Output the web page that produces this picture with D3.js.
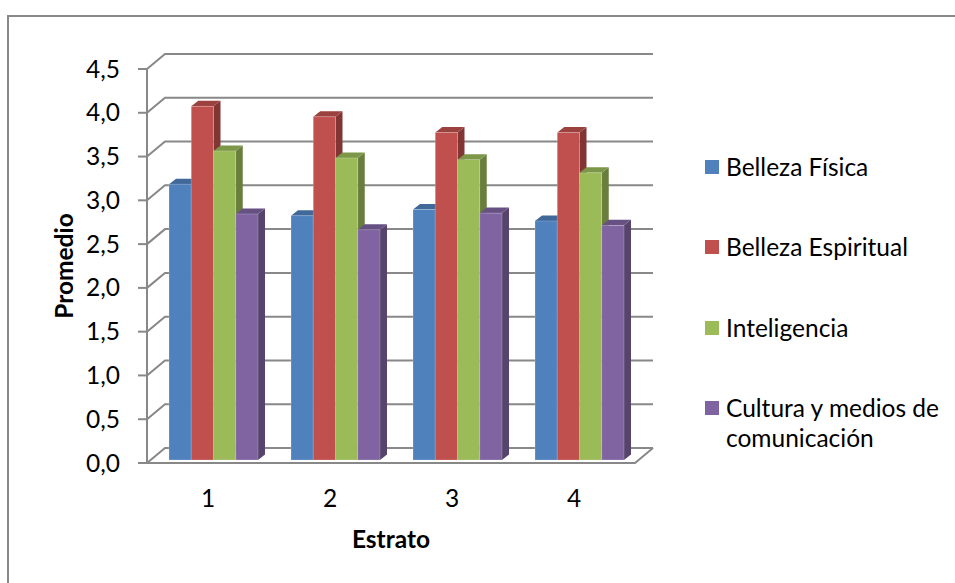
<!DOCTYPE html>
<html>
<head>
<meta charset="utf-8">
<script src="https://cdn.jsdelivr.net/npm/d3@7"></script>
<style>
  html, body { margin: 0; padding: 0; background: #fff; }
  svg { display: block; font-family: Lato, "Open Sans", sans-serif; }
</style>
</head>
<body>
<svg id="chart" width="955" height="583"></svg>
<script>
// Categories (estrato) and series
const categories = ["1", "2", "3", "4"];
const seriesNames = ["Belleza Física", "Belleza Espiritual", "Inteligencia", "Cultura y medios de comunicación"];
const legendLines = [["Belleza Física"], ["Belleza Espiritual"], ["Inteligencia"], ["Cultura y medios de", "comunicación"]];
const bellezaFisica     = [3.15, 2.79, 2.86, 2.73];
const bellezaEspiritual = [4.04, 3.92, 3.74, 3.74];
const inteligencia      = [3.53, 3.45, 3.43, 3.28];
const cultura           = [2.81, 2.63, 2.82, 2.68];
const seriesValues = [bellezaFisica, bellezaEspiritual, inteligencia, cultura];
const yTicks = [0, 0.5, 1, 1.5, 2, 2.5, 3, 3.5, 4, 4.5];
const colors = ["#4F81BD", "#C0504D", "#9BBB59", "#8064A2"];

const svg = d3.select("#chart");
const lineColor = "#888888";
const fontSize = 24.5;

// Outer chart frame
svg.append("rect")
  .attr("x", 8).attr("y", 16).attr("width", 1000).attr("height", 1000)
  .attr("fill", "#fff").attr("stroke", lineColor).attr("stroke-width", 2);

// Front plane geometry
const x0 = 147, x1 = 635;
const y = d3.scaleLinear().domain([0, 4.5]).range([463, 69]);
const x = d3.scaleBand().domain(categories).range([x0, x1]).padding(0);
// Oblique depth vector of the whole plot box
const depth = { dx: 18, dy: -15 };

const grid = svg.append("g").attr("fill", "none").attr("stroke", lineColor).attr("stroke-width", 2);

// Side-wall diagonals and back-wall gridlines
yTicks.forEach(v => {
  const yf = y(v);
  grid.append("path")
    .attr("d", `M${x0},${yf}L${x0 + depth.dx},${yf + depth.dy}L${x1 + depth.dx},${yf + depth.dy}`);
});

// Floor front edge and right edge
grid.append("path")
  .attr("d", `M${x0},${y(0)}L${x1},${y(0)}L${x1 + depth.dx},${y(0) + depth.dy}`);

// Value axis line and ticks
grid.append("line").attr("x1", x0).attr("x2", x0).attr("y1", y(0)).attr("y2", y(4.5));
yTicks.forEach(v => {
  grid.append("line").attr("x1", x0 - 9).attr("x2", x0).attr("y1", y(v)).attr("y2", y(v));
});

// Tick labels
const fmt = v => d3.format(".1f")(v).replace(".", ",");
svg.append("g").selectAll("text").data(yTicks).join("text")
  .attr("x", 120).attr("y", d => y(d))
  .attr("dy", "0.35em")
  .attr("text-anchor", "end")
  .attr("font-size", fontSize)
  .attr("fill", "#000")
  .text(fmt);

// Category labels
svg.append("g").selectAll("text").data(categories).join("text")
  .attr("x", d => x(d) + x.bandwidth() / 2)
  .attr("y", 498)
  .attr("dy", "0.35em")
  .attr("text-anchor", "middle")
  .attr("font-size", fontSize)
  .attr("fill", "#000")
  .text(d => d);

// Axis titles
svg.append("text")
  .attr("x", 391).attr("y", 539).attr("dy", "0.35em")
  .attr("text-anchor", "middle").attr("font-size", fontSize).attr("font-weight", "bold")
  .attr("fill", "#000").text("Estrato");

svg.append("text")
  .attr("transform", `translate(64,${(y(0) + y(4.5)) / 2}) rotate(-90)`)
  .attr("dy", "0.35em")
  .attr("text-anchor", "middle").attr("font-size", fontSize).attr("font-weight", "bold")
  .attr("fill", "#000").text("Promedio");

// 3D columns
const clusterWidth = 89;
const inner = d3.scaleBand().domain(d3.range(seriesNames.length)).range([0, clusterWidth]).padding(0);
const barFront = { dx: 5.5, dy: -3 };   // bar front plane inside the box
const barDepth = { dx: 7, dy: -5.5 };   // depth of each column

const bars = svg.append("g");
categories.forEach((cat, ci) => {
  const left = x(cat) + (x.bandwidth() - clusterWidth) / 2 + barFront.dx;
  seriesValues.forEach((vals, si) => {
    const bx = left + inner(si);
    const bw = inner.bandwidth();
    const base = y(0) + barFront.dy;
    const top = y(vals[ci]) + barFront.dy;
    const c = d3.color(colors[si]);
    const g = bars.append("g");
    // right side face
    g.append("path")
      .attr("d", `M${bx + bw},${base}L${bx + bw + barDepth.dx},${base + barDepth.dy}L${bx + bw + barDepth.dx},${top + barDepth.dy}L${bx + bw},${top}Z`)
      .attr("fill", c.darker(1.1));
    // top face
    g.append("path")
      .attr("d", `M${bx},${top}L${bx + barDepth.dx},${top + barDepth.dy}L${bx + bw + barDepth.dx},${top + barDepth.dy}L${bx + bw},${top}Z`)
      .attr("fill", c.darker(0.6));
    // front face
    g.append("rect")
      .attr("x", bx).attr("y", top).attr("width", bw).attr("height", base - top)
      .attr("fill", colors[si])
      .attr("stroke", "rgba(255,255,255,0.25)").attr("stroke-width", 0.8);
  });
});

// Legend
const legendY = [167, 247, 328, 408];
const legend = svg.append("g");
legendLines.forEach((lines, i) => {
  legend.append("rect")
    .attr("x", 705).attr("y", legendY[i] - 7).attr("width", 14).attr("height", 14)
    .attr("fill", colors[i]);
  lines.forEach((t, j) => {
    legend.append("text")
      .attr("x", 726).attr("y", legendY[i] + j * 30).attr("dy", "0.35em")
      .attr("font-size", fontSize).attr("fill", "#000").text(t);
  });
});
</script>
</body>
</html>
